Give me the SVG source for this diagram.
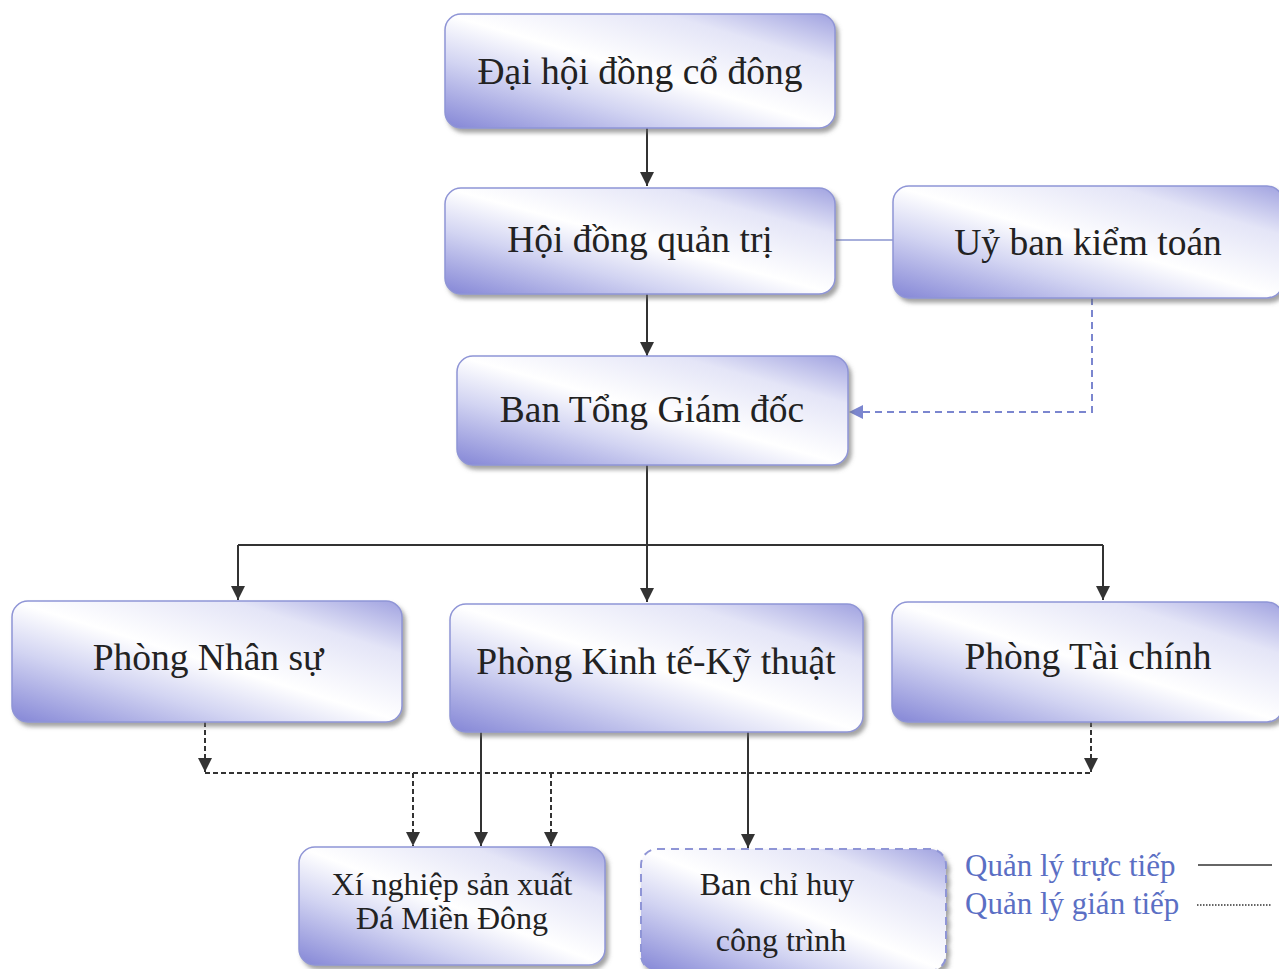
<svg xmlns="http://www.w3.org/2000/svg" width="1279" height="969" viewBox="0 0 1279 969">
<defs>
<linearGradient id="g" x1="0" y1="1" x2="1" y2="0">
<stop offset="0" stop-color="#8486d6"/>
<stop offset="0.3" stop-color="#d2d4f2"/>
<stop offset="0.5" stop-color="#ffffff"/>
<stop offset="0.78" stop-color="#e4e5f7"/>
<stop offset="1" stop-color="#a0a2e0"/>
</linearGradient>
<filter id="sh" x="-5%" y="-5%" width="115%" height="125%">
<feDropShadow dx="3" dy="4" stdDeviation="2" flood-color="#666" flood-opacity="0.6"/>
</filter>
<marker id="ab" viewBox="0 0 10 10" refX="10" refY="5" markerWidth="14" markerHeight="14" markerUnits="userSpaceOnUse" orient="auto">
<path d="M0,0 L10,5 L0,10 z" fill="#333"/>
</marker>
<marker id="abl" viewBox="0 0 10 10" refX="10" refY="5" markerWidth="14" markerHeight="14" markerUnits="userSpaceOnUse" orient="auto">
<path d="M0,0 L10,5 L0,10 z" fill="#7b86cf"/>
</marker>
</defs>
<style>
.box{fill:url(#g);stroke:#8f95d6;stroke-width:1.5;filter:url(#sh)}
.dbox{fill:url(#g);stroke:#8f95d6;stroke-width:2;stroke-dasharray:8 6;filter:url(#sh)}
.t{font-family:"Liberation Serif",serif;font-size:37.5px;fill:#222;text-anchor:middle}
.ts{font-family:"Liberation Serif",serif;font-size:32px;fill:#222;text-anchor:middle}
.lg{font-family:"Liberation Serif",serif;font-size:31px;fill:#5b6fc4}
.s{stroke:#333;stroke-width:2;fill:none}
.d{stroke:#333;stroke-width:2;fill:none;stroke-dasharray:5 3}
.bl{stroke:#8a94cf;stroke-width:1.5;fill:none}
.bd{stroke:#7b86cf;stroke-width:2;fill:none;stroke-dasharray:7 5}
</style>
<rect width="1279" height="969" fill="#fff"/>
<g id="connectors">
<line class="s" x1="647" y1="128" x2="647" y2="186" marker-end="url(#ab)"/>
<line class="s" x1="647" y1="294" x2="647" y2="356" marker-end="url(#ab)"/>
<line class="bl" x1="835" y1="240" x2="893" y2="240"/>
<polyline class="bd" points="1092,298 1092,412 849,412" marker-end="url(#abl)"/>
<polyline class="s" points="647,465 647,545"/>
<polyline class="s" points="238,545 1103,545"/>
<line class="s" x1="238" y1="545" x2="238" y2="600" marker-end="url(#ab)"/>
<line class="s" x1="647" y1="545" x2="647" y2="602" marker-end="url(#ab)"/>
<line class="s" x1="1103" y1="545" x2="1103" y2="600" marker-end="url(#ab)"/>
<line class="d" x1="205" y1="722" x2="205" y2="772" marker-end="url(#ab)"/>
<line class="d" x1="1091" y1="722" x2="1091" y2="772" marker-end="url(#ab)"/>
<line class="d" x1="205" y1="773" x2="1091" y2="773"/>
<line class="d" x1="413" y1="773" x2="413" y2="846" marker-end="url(#ab)"/>
<line class="d" x1="551" y1="773" x2="551" y2="846" marker-end="url(#ab)"/>
<line class="s" x1="481" y1="732" x2="481" y2="846" marker-end="url(#ab)"/>
<line class="s" x1="748" y1="730" x2="748" y2="848" marker-end="url(#ab)"/>
</g>
<g id="n1"><rect class="box" x="445" y="14" width="390" height="114" rx="16"/><text class="t" x="640" y="84">Đại hội đồng cổ đông</text></g>
<g id="n2"><rect class="box" x="445" y="188" width="390" height="106" rx="16"/><text class="t" x="640" y="252">Hội đồng quản trị</text></g>
<g id="n3"><rect class="box" x="893" y="186" width="390" height="112" rx="16"/><text class="t" x="1088" y="255">Uỷ ban kiểm toán</text></g>
<g id="n4"><rect class="box" x="457" y="356" width="391" height="109" rx="16"/><text class="t" x="652" y="422">Ban Tổng Giám đốc</text></g>
<g id="n5"><rect class="box" x="12" y="601" width="390" height="121" rx="16"/><text class="t" x="208" y="670">Phòng Nhân sự</text></g>
<g id="n6"><rect class="box" x="450" y="604" width="413" height="128" rx="16"/><text class="t" x="656" y="674">Phòng Kinh tế-Kỹ thuật</text></g>
<g id="n7"><rect class="box" x="892" y="602" width="391" height="120" rx="16"/><text class="t" x="1088" y="669">Phòng Tài chính</text></g>
<g id="n8"><rect class="box" x="299" y="847" width="306" height="118" rx="16"/><text class="ts" x="452" y="895">Xí nghiệp sản xuất</text><text class="ts" x="452" y="929">Đá Miền Đông</text></g>
<g id="n9"><rect class="dbox" x="641" y="849" width="305" height="122" rx="16"/><text class="ts" x="777" y="895">Ban chỉ huy</text><text class="ts" x="781" y="951">công trình</text></g>
<g id="legend">
<text class="lg" x="965" y="876">Quản lý trực tiếp</text>
<line x1="1198" y1="865" x2="1272" y2="865" stroke="#333" stroke-width="1.5"/>
<text class="lg" x="965" y="914">Quản lý gián tiếp</text>
<line x1="1197" y1="905" x2="1272" y2="905" stroke="#333" stroke-width="1.5" stroke-dasharray="1.5 1.5"/>
</g>
</svg>
